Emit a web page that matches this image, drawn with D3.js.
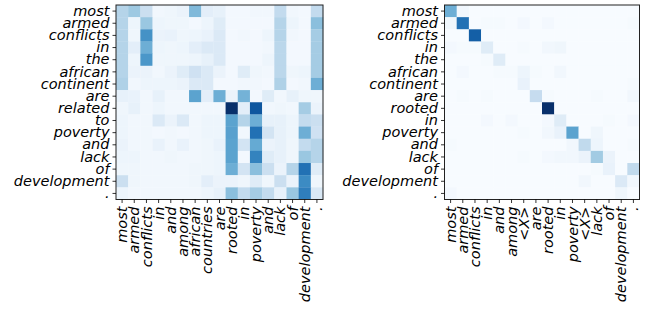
<!DOCTYPE html>
<html>
<head>
<meta charset="utf-8">
<script src="https://cdn.jsdelivr.net/npm/d3@7"></script>
<style>
body { margin: 0; background: #fff; }
.tick text { font-family: "DejaVu Sans", sans-serif; font-style: italic; font-size: 14.5px; fill: #000; }
.tick line { stroke: #000; stroke-width: 0.8; }
</style>
</head>
<body>
<div id="chart-area"></div>
<script>
// attention maps: source sentence (rows) vs. target sentence (columns)
const leftRows = ['most','armed','conflicts','in','the','african','continent','are','related','to','poverty','and','lack','of','development','.']
const leftCols = ['most','armed','conflicts','in','and','among','african','countries','are','rooted','in','poverty','and','lack','of','development','.']
const leftVals = [
  [0.30,0.37,0.22,0.03,0.04,0.06,0.45,0.10,0.08,0.02,0.02,0.03,0.03,0.25,0.03,0.02,0.25],
  [0.30,0.05,0.38,0.05,0.04,0.04,0.02,0.05,0.12,0.02,0.02,0.02,0.02,0.30,0.05,0.02,0.42],
  [0.30,0.04,0.62,0.06,0.07,0.04,0.05,0.07,0.14,0.02,0.03,0.02,0.05,0.30,0.03,0.02,0.35],
  [0.30,0.10,0.50,0.05,0.04,0.05,0.10,0.14,0.14,0.02,0.02,0.02,0.03,0.28,0.02,0.02,0.35],
  [0.30,0.05,0.60,0.04,0.04,0.04,0.05,0.08,0.14,0.02,0.02,0.02,0.05,0.28,0.02,0.02,0.35],
  [0.30,0.06,0.06,0.03,0.06,0.12,0.20,0.14,0.06,0.02,0.12,0.04,0.03,0.28,0.04,0.05,0.35],
  [0.32,0.03,0.05,0.05,0.05,0.06,0.14,0.14,0.02,0.02,0.03,0.03,0.02,0.32,0.02,0.03,0.50],
  [0.08,0.07,0.03,0.08,0.03,0.03,0.55,0.10,0.50,0.06,0.48,0.02,0.12,0.03,0.08,0.04,0.04],
  [0.04,0.08,0.03,0.05,0.03,0.03,0.03,0.03,0.03,1.00,0.10,0.85,0.03,0.04,0.03,0.35,0.06],
  [0.05,0.03,0.03,0.14,0.06,0.14,0.03,0.05,0.05,0.55,0.30,0.50,0.08,0.08,0.05,0.25,0.22],
  [0.05,0.03,0.03,0.02,0.03,0.02,0.03,0.05,0.05,0.56,0.03,0.75,0.18,0.08,0.05,0.50,0.20],
  [0.06,0.03,0.03,0.07,0.03,0.07,0.03,0.04,0.07,0.55,0.18,0.52,0.06,0.08,0.04,0.25,0.30],
  [0.05,0.05,0.03,0.03,0.04,0.03,0.03,0.04,0.05,0.55,0.02,0.68,0.12,0.08,0.04,0.38,0.30],
  [0.04,0.04,0.03,0.03,0.03,0.03,0.04,0.04,0.05,0.50,0.18,0.42,0.22,0.06,0.30,0.75,0.12],
  [0.22,0.04,0.03,0.03,0.03,0.03,0.04,0.10,0.06,0.06,0.04,0.12,0.04,0.22,0.06,0.65,0.04],
  [0.05,0.03,0.03,0.03,0.03,0.03,0.03,0.05,0.08,0.42,0.25,0.35,0.25,0.08,0.38,0.70,0.15]
]

const rightRows = ['most','armed','conflicts','in','the','african','continent','are','rooted','in','poverty','and','lack','of','development','.']
const rightCols = ['most','armed','conflicts','in','and','among','<X>','are','rooted','in','poverty','<X>','lack','of','development','.']
const rightVals = [
  [0.50,0.03,0,0,0,0,0,0,0,0,0,0,0,0,0,0],
  [0.04,0.75,0,0.01,0.01,0,0.02,0,0.02,0,0,0,0,0,0,0.01],
  [0,0,0.82,0,0,0,0,0,0,0,0,0,0,0,0,0],
  [0.02,0.01,0.01,0.12,0,0,0.01,0,0.03,0.04,0,0,0,0,0,0],
  [0,0,0,0.01,0.12,0,0,0,0,0,0,0,0,0,0,0],
  [0,0.02,0,0,0.01,0.01,0.05,0.01,0,0.03,0,0,0,0,0,0],
  [0,0,0,0,0,0,0.07,0,0,0,0,0,0,0,0,0.01],
  [0,0.01,0,0.01,0,0,0,0.24,0.01,0,0,0,0.01,0,0,0.03],
  [0,0,0,0,0,0,0,0,1.00,0,0,0,0,0,0,0],
  [0,0,0,0.02,0,0.02,0,0,0.02,0.12,0,0,0,0.01,0,0.02],
  [0,0,0,0,0,0,0.01,0,0.03,0.07,0.55,0,0.04,0,0,0],
  [0.01,0,0,0,0,0,0,0,0,0,0.03,0.26,0.05,0,0,0.01],
  [0,0,0,0,0,0,0.01,0,0.02,0.03,0.03,0.06,0.36,0.06,0,0],
  [0,0,0,0,0,0,0,0,0,0,0,0,0.01,0.07,0,0.26],
  [0,0,0,0,0,0,0,0,0,0,0,0.03,0,0,0.14,0.03],
  [0.02,0,0,0,0,0,0,0,0,0,0,0,0,0,0.04,0]
]

const WIDTH = 651, HEIGHT = 309

const svg = d3.select('#chart-area')
.append('svg')
.attr('width',WIDTH)
.attr('height',HEIGHT)

const color = d3.scaleSequential(d3.interpolateBlues).domain([0,1])

function heatmap(left, top, w, h, rows, cols, vals) {
  const g = svg.append('g')
  .attr('transform',`translate(${left},${top})`)

  const x = d3.scaleBand().domain(d3.range(cols.length)).range([0,w])
  const y = d3.scaleBand().domain(d3.range(rows.length)).range([0,h])

  const cells = []
  vals.forEach((r,i) => r.forEach((v,j) => cells.push({i,j,v})))

  g.selectAll('rect.cell')
  .data(cells)
  .enter().append('rect')
  .attr('class','cell')
  .attr('x',d => x(d.j))
  .attr('y',d => y(d.i))
  .attr('width',x.bandwidth()+0.3)
  .attr('height',y.bandwidth()+0.3)
  .attr('fill',d => color(d.v))

  g.append('rect')
  .attr('width',w)
  .attr('height',h)
  .attr('fill','none')
  .attr('stroke','#222')
  .attr('stroke-width',1)

  const yAxisCall = d3.axisLeft(y)
  .tickSize(3.5)
  .tickPadding(3)
  .tickSizeOuter(0)
  .tickFormat(i => rows[i])
  g.append('g')
  .attr('class','y axis')
  .call(yAxisCall)
  .call(a => a.select('.domain').remove())

  const xAxisCall = d3.axisBottom(x)
  .tickSize(3.5)
  .tickSizeOuter(0)
  .tickFormat(i => cols[i])
  g.append('g')
  .attr('class','x axis')
  .attr('transform',`translate(0,${h})`)
  .call(xAxisCall)
  .call(a => a.select('.domain').remove())
  .selectAll('text')
  .attr('text-anchor','end')
  .attr('dy','0.35em')
  .attr('transform','translate(0,7) rotate(-90)')
  .attr('x',0)
  .attr('y',0)
}

heatmap(116, 5, 207, 194.5, leftRows, leftCols, leftVals)
heatmap(444.5, 5, 195, 194.5, rightRows, rightCols, rightVals)
</script>
</body>
</html>
